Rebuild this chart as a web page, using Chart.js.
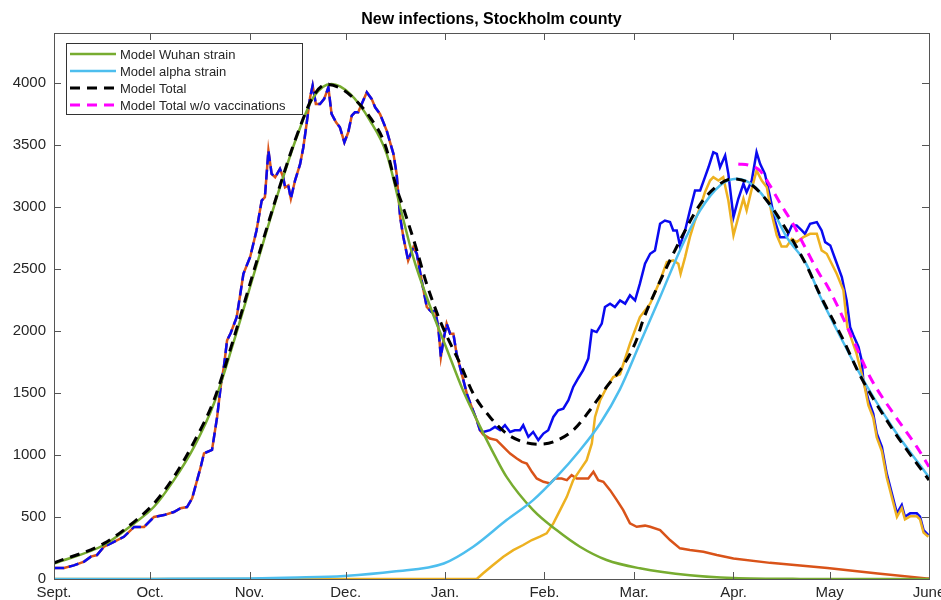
<!DOCTYPE html>
<html>
<head>
<meta charset="utf-8">
<title>New infections, Stockholm county</title>
<script src="https://cdn.jsdelivr.net/npm/chart.js@4.4.1/dist/chart.umd.min.js"></script>
<style>
  html, body { margin: 0; padding: 0; background: #fff; }
  #wrap { width: 941px; height: 600px; position: relative; }
</style>
</head>
<body>
<div id="wrap"><canvas id="chart"></canvas></div>
<script>
// Axis definitions (days since 1 September)
const monthDays = [0, 30, 61, 91, 122, 153, 181, 212, 242, 273];
const monthLabels = ['Sept.', 'Oct.', 'Nov.', 'Dec.', 'Jan.', 'Feb.', 'Mar.', 'Apr.', 'May', 'June'];
const yTicks = [0, 500, 1000, 1500, 2000, 2500, 3000, 3500, 4000];

// Reported cases while only the Wuhan strain circulated (total == Wuhan)
const sharedDays = [0, 3.1, 6.2, 9.4, 11.5, 13.4, 15.6, 18.7, 21.8, 25.0, 28.1, 31.2, 34.3, 37.4, 39.5, 41.5, 43.1, 45.8, 46.8, 49.3, 50.9, 52.0, 53.0, 54.0, 55.1, 57.0, 59.1, 61.2, 63.2, 64.8, 65.8, 66.9, 67.9, 69.0, 70.5, 71.5, 72.1, 73.1, 73.9, 75.2, 76.8, 77.8, 78.8, 79.9, 80.7, 81.7, 83.0, 84.3, 85.6, 86.6, 88.0, 89.2, 90.6, 91.8, 92.9, 93.9, 94.9, 96.0, 97.6, 99.1, 100.2, 101.7, 103.8, 105.9, 106.9, 108.0, 109.0, 110.5, 112.1, 113.2, 114.7, 116.3, 117.8, 118.9, 119.9, 120.7, 121.5, 122.5, 123.6, 124.6, 125.6, 127.2, 128.8, 130.3, 131.9, 132.9];
const sharedCases = [88, 88, 110, 140, 180, 193, 260, 300, 340, 420, 420, 500, 515, 540, 570, 580, 650, 905, 1013, 1040, 1306, 1548, 1710, 1923, 1980, 2110, 2460, 2595, 2810, 3050, 3077, 3453, 3265, 3238, 3305, 3238, 3157, 3171, 3064, 3211, 3345, 3479, 3667, 3881, 3976, 3828, 3828, 3869, 3962, 3748, 3680, 3640, 3519, 3600, 3734, 3761, 3761, 3828, 3922, 3869, 3801, 3748, 3614, 3426, 3265, 2916, 2755, 2567, 2674, 2621, 2406, 2192, 2151, 2165, 2030, 1789, 1923, 2058, 1977, 1977, 1816, 1655, 1494, 1387, 1280, 1199];

// Total reported cases after the alpha strain appears
const totalTailDays = [133.9, 136.0, 137.6, 139.2, 140.7, 142.3, 143.8, 145.4, 146.4, 148.0, 149.5, 151.1, 152.7, 154.2, 155.8, 157.3, 158.9, 160.5, 162.0, 163.6, 165.1, 166.7, 167.8, 169.3, 170.9, 171.9, 173.5, 175.0, 176.6, 178.2, 179.7, 181.3, 182.8, 184.4, 186.0, 187.5, 189.1, 190.6, 192.2, 193.2, 194.3, 195.3, 196.9, 198.4, 200.0, 201.6, 203.1, 204.2, 205.7, 206.8, 207.8, 209.4, 210.4, 212.0, 213.5, 215.1, 216.1, 217.7, 219.2, 220.3, 221.8, 223.4, 224.9, 226.5, 228.6, 230.2, 231.7, 233.3, 234.3, 235.9, 238.0, 239.5, 240.6, 242.2, 243.7, 245.8, 247.3, 248.4, 249.4, 251.0, 252.0, 252.5, 254.1, 255.6, 256.7, 258.3, 259.8, 261.4, 263.0, 264.5, 265.5, 267.1, 269.2, 270.2, 271.3, 272.8];
const totalTailCases = [1185, 1199, 1226, 1199, 1239, 1185, 1199, 1199, 1239, 1145, 1185, 1119, 1172, 1199, 1306, 1360, 1373, 1441, 1548, 1620, 1682, 1776, 2004, 1990, 2058, 2192, 2219, 2192, 2245, 2219, 2286, 2245, 2380, 2541, 2621, 2648, 2863, 2889, 2876, 2809, 2809, 2688, 2809, 2970, 3131, 3131, 3238, 3318, 3439, 3426, 3318, 3412, 3265, 2916, 3064, 3185, 3117, 3211, 3439, 3345, 3265, 3080, 2889, 2755, 2755, 2849, 2849, 2809, 2782, 2863, 2876, 2809, 2715, 2688, 2581, 2433, 2245, 2030, 1964, 1870, 1762, 1601, 1441, 1333, 1172, 1065, 851, 690, 529, 596, 502, 529, 529, 502, 394, 354];

// Wuhan strain cases after the alpha strain appears
const wuhanTailDays = [133.9, 136.0, 138.1, 140.2, 142.3, 144.4, 146.0, 147.5, 149.1, 150.6, 152.7, 154.8, 156.3, 158.4, 160.0, 161.5, 163.1, 165.1, 166.7, 168.3, 169.8, 171.4, 173.5, 175.6, 177.6, 179.7, 181.8, 184.4, 186.0, 189.1, 192.2, 195.3, 198.4, 202.6, 206.8, 212.0, 223.4, 241.3, 257.0, 272.3, 273];
const wuhanTailCases = [1165, 1132, 1119, 1065, 1011, 971, 944, 931, 864, 810, 783, 770, 810, 810, 797, 837, 810, 810, 810, 864, 797, 783, 716, 636, 555, 448, 421, 430, 421, 394, 314, 247, 233, 220, 193, 165, 130, 88, 45, 5, 3];

// Alpha strain cases
const alphaDays = [0, 131.9, 133.9, 137.0, 140.2, 143.3, 146.4, 149.1, 151.6, 153.7, 155.8, 157.9, 160.0, 162.0, 164.1, 166.2, 167.8, 168.8, 170.4, 172.5, 174.5, 176.6, 179.7, 182.8, 186.0, 189.1, 191.2, 193.2, 194.8, 195.5, 196.9, 198.4, 200.0, 201.6, 203.1, 204.7, 205.7, 207.3, 208.8, 210.4, 212.0, 213.5, 215.1, 216.1, 217.7, 219.2, 220.8, 222.4, 223.9, 225.5, 227.0, 228.6, 230.2, 231.7, 233.8, 235.9, 238.0, 239.5, 241.1, 244.2, 246.3, 247.5, 250.4, 252.5, 254.1, 255.6, 256.7, 258.3, 259.8, 261.4, 263.0, 264.5, 265.5, 267.1, 269.2, 270.2, 271.3, 272.8];
const alphaCases = [0, 0, 46, 113, 180, 233, 274, 314, 341, 368, 448, 555, 662, 797, 877, 958, 1092, 1306, 1441, 1548, 1628, 1650, 1897, 2111, 2219, 2406, 2554, 2567, 2541, 2460, 2594, 2755, 2889, 2996, 3117, 3211, 3238, 3211, 3238, 3050, 2769, 2916, 3064, 2970, 3144, 3292, 3211, 3157, 2943, 2770, 2680, 2680, 2740, 2715, 2755, 2782, 2782, 2648, 2621, 2460, 2326, 2030, 1816, 1601, 1400, 1300, 1140, 1030, 820, 660, 500, 570, 480, 505, 505, 480, 375, 340];

// Model: Wuhan strain
const wuhanModelDays = [0, 15.6, 25.0, 31.2, 37.4, 43.7, 49.9, 56.2, 62.4, 70.5, 75.7, 80.9, 86.6, 92.4, 98.6, 103.8, 108.0, 112.0, 117.3, 122.6, 127.6, 132.9, 137.6, 141.2, 149.5, 156.8, 164.1, 172.4, 182.8, 198.4, 211.9, 232.8, 273];
const wuhanModel = [125, 274, 448, 582, 797, 1065, 1414, 1923, 2460, 3157, 3560, 3881, 3989, 3909, 3694, 3426, 3000, 2600, 2200, 1850, 1520, 1230, 990, 823, 555, 394, 260, 153, 86, 30, 8, 1, 0];

// Model: alpha strain
const alphaModelDays = [0, 30, 61, 76, 90.5, 106, 121.6, 130.8, 141.2, 149.5, 156.8, 164.1, 170.4, 176.6, 182.8, 189.1, 195.3, 201.6, 207.8, 213.0, 218.2, 223.4, 228.6, 234.9, 239.0, 246.2, 251.5, 261.8, 273];
const alphaModel = [0, 1, 5, 12, 25, 60, 125, 260, 475, 636, 823, 1038, 1253, 1530, 1897, 2272, 2648, 2970, 3171, 3225, 3171, 3010, 2755, 2530, 2280, 1910, 1650, 1215, 820];

// Model: total
const totalModelDays = [0, 15.6, 25.0, 31.2, 37.4, 43.7, 49.9, 56.2, 62.4, 70.5, 75.7, 80.9, 85.0, 89.0, 92.4, 98.6, 103.3, 106.9, 109.0, 113.2, 116.0, 120.4, 123.6, 126.7, 130.8, 136.0, 141.2, 146.4, 151.6, 155.8, 162.0, 167.2, 172.4, 177.6, 181.8, 183.7, 189.1, 195.3, 201.6, 207.8, 212.0, 217.2, 222.4, 228.6, 234.9, 239.0, 246.2, 251.5, 261.8, 273];
const totalModel = [130, 287, 461, 609, 823, 1105, 1441, 1950, 2487, 3170, 3570, 3890, 3985, 3960, 3900, 3720, 3500, 3150, 2990, 2650, 2400, 2084, 1900, 1736, 1494, 1306, 1172, 1105, 1086, 1105, 1199, 1360, 1548, 1720, 1930, 2080, 2400, 2728, 3020, 3185, 3225, 3185, 3050, 2810, 2520, 2290, 1930, 1640, 1200, 797];

// Model: total without vaccinations
const noVaccDays = [213.5, 216.8, 220.3, 223.4, 226.5, 230.6, 233.8, 239.0, 241.1, 249.4, 254.6, 261.9, 269.2, 273];
const noVaccModel = [3345, 3335, 3290, 3170, 3030, 2860, 2700, 2450, 2370, 1923, 1628, 1333, 1065, 904];

const SPLIT_DAY = 133;
const FONT = '"Liberation Sans", Arial, Helvetica, sans-serif';
const TEXT = '#262626';
const AXIS = '#555555';

const pts = (xs, ys) => xs.map((x, i) => ({ x, y: ys[i] }));

const datasets = [
  { label: 'Model Total w/o vaccinations', data: pts(noVaccDays, noVaccModel), borderColor: '#ff00ff', borderWidth: 3, borderDash: [10, 7], cubicInterpolationMode: 'monotone', order: 1, inLegend: true, legendPos: 3 },
  { label: 'Model Total', data: pts(totalModelDays, totalModel), borderColor: '#000000', borderWidth: 3, borderDash: [10, 7], cubicInterpolationMode: 'monotone', order: 2, inLegend: true, legendPos: 2 },
  { label: 'Model alpha strain', data: pts(alphaModelDays, alphaModel), borderColor: '#4dbeee', borderWidth: 2.5, cubicInterpolationMode: 'monotone', order: 3, inLegend: true, legendPos: 1 },
  { label: 'Model Wuhan strain', data: pts(wuhanModelDays, wuhanModel), borderColor: '#77ac30', borderWidth: 2.5, cubicInterpolationMode: 'monotone', order: 4, inLegend: true, legendPos: 0 },
  { label: 'Alpha cases', data: pts(alphaDays, alphaCases), borderColor: '#edb120', borderWidth: 2.5, tension: 0, order: 5 },
  { label: 'Total cases', data: pts(sharedDays.concat(totalTailDays), sharedCases.concat(totalTailCases)), borderColor: '#0a0af0', borderWidth: 2.5, tension: 0, order: 6,
    segment: { borderDash: c => c.p0.parsed.x < SPLIT_DAY ? [10, 5] : undefined } },
  { label: 'Wuhan cases', data: pts(sharedDays.concat(wuhanTailDays), sharedCases.concat(wuhanTailCases)), borderColor: '#d95319', borderWidth: 2.5, tension: 0, order: 7 }
];
datasets.forEach(d => { d.pointRadius = 0; d.fill = false; });

// Box, inward tick marks, title and legend in the axes style
const frame = {
  id: 'frame',
  afterDraw(chart) {
    const { ctx, chartArea: a, scales: { x, y } } = chart;
    ctx.save();
    ctx.strokeStyle = AXIS;
    ctx.lineWidth = 1;
    ctx.beginPath();
    monthDays.forEach(d => {
      const px = Math.round(x.getPixelForValue(d)) + 0.5;
      ctx.moveTo(px, a.bottom); ctx.lineTo(px, a.bottom - 7);
      ctx.moveTo(px, a.top); ctx.lineTo(px, a.top + 7);
    });
    yTicks.forEach(v => {
      const py = Math.round(y.getPixelForValue(v)) + 0.5;
      ctx.moveTo(a.left, py); ctx.lineTo(a.left + 7, py);
      ctx.moveTo(a.right, py); ctx.lineTo(a.right - 7, py);
    });
    ctx.stroke();
    ctx.strokeRect(Math.round(a.left) + 0.5, Math.round(a.top) + 0.5, Math.round(a.right - a.left), Math.round(a.bottom - a.top));

    // Title
    ctx.fillStyle = '#000';
    ctx.font = 'bold 16px ' + FONT;
    ctx.textAlign = 'center';
    ctx.textBaseline = 'middle';
    ctx.fillText('New infections, Stockholm county', (a.left + a.right) / 2, 20);

    // Legend
    const items = chart.data.datasets.filter(d => d.inLegend).sort((p, q) => p.legendPos - q.legendPos);
    const bx = 66, by = 43, bw = 236, bh = 71;
    ctx.fillStyle = '#fff';
    ctx.fillRect(bx, by, bw, bh);
    ctx.strokeStyle = '#333';
    ctx.lineWidth = 1;
    ctx.strokeRect(bx + 0.5, by + 0.5, bw, bh);
    ctx.font = '13px ' + FONT;
    ctx.textAlign = 'left';
    items.forEach((d, i) => {
      const ly = by + 11 + i * 17;
      ctx.save();
      ctx.strokeStyle = d.borderColor;
      ctx.lineWidth = d.borderWidth;
      ctx.setLineDash(d.borderDash || []);
      ctx.beginPath();
      ctx.moveTo(70, ly); ctx.lineTo(116, ly);
      ctx.stroke();
      ctx.restore();
      ctx.fillStyle = TEXT;
      ctx.fillText(d.label, 120, ly + 1);
    });
    ctx.restore();
  }
};

new Chart(document.getElementById('chart'), {
  type: 'line',
  data: { datasets },
  options: {
    responsive: true,
    maintainAspectRatio: false,
    animation: false,
    events: [],
    layout: { autoPadding: false, padding: { top: 33, right: 12, bottom: 0, left: 0 } },
    plugins: { legend: { display: false }, title: { display: false }, tooltip: { enabled: false } },
    scales: {
      x: {
        type: 'linear', min: 0, max: 273,
        grid: { display: false, drawTicks: false },
        border: { display: false },
        afterBuildTicks: s => { s.ticks = monthDays.map(v => ({ value: v })); },
        afterFit: s => { s.height = 21; s.paddingLeft = 0; s.paddingRight = 0; },
        ticks: { autoSkip: false, maxRotation: 0, minRotation: 0, padding: 5, color: TEXT,
          font: { family: FONT, size: 15 }, callback: (v, i) => monthLabels[i] }
      },
      y: {
        type: 'linear', min: 0, max: 4400,
        grid: { display: false, drawTicks: false },
        border: { display: false },
        afterBuildTicks: s => { s.ticks = yTicks.map(v => ({ value: v })); },
        afterFit: s => { s.width = 54; s.paddingTop = 0; s.paddingBottom = 0; },
        ticks: { padding: 8, color: TEXT, font: { family: FONT, size: 15 }, callback: v => String(v) }
      }
    }
  },
  plugins: [frame]
});
</script>
</body>
</html>
